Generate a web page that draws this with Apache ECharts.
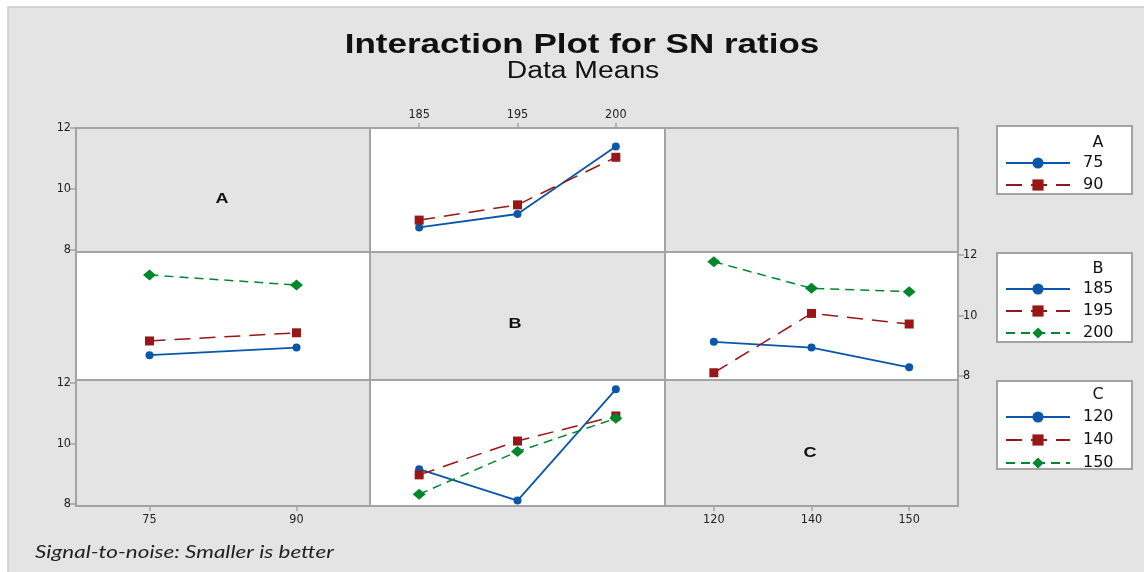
<!DOCTYPE html>
<html>
<head>
<meta charset="utf-8">
<script src="https://cdn.jsdelivr.net/npm/echarts@6/dist/echarts.min.js"></script>
<style>html,body{margin:0;padding:0;background:#fff}#c{width:1144px;height:572px}</style>
</head>
<body>
<div id="c"></div>
<script>
// ---- data ----
const aLevels = ['75', '90'];
const bLevels = ['185', '195', '200'];
const cLevels = ['120', '140', '150'];
const yTickValues = [8, 10, 12];

// A x B panel (x axis = B)
const a75ByB = [8.74, 9.18, 11.39];
const a90ByB = [8.98, 9.48, 11.04];
// B x A panel (x axis = A)
const b185ByA = [8.69, 8.94];
const b195ByA = [9.16, 9.43];
const b200ByA = [11.34, 11.01];
// B x C panel (x axis = C)
const b185ByC = [9.13, 8.94, 8.29];
const b195ByC = [8.11, 10.07, 9.72];
const b200ByC = [11.78, 10.90, 10.79];
// C x B panel (x axis = B)
const c120ByB = [9.15, 8.11, 11.79];
const c140ByB = [8.96, 10.08, 10.91];
const c150ByB = [8.32, 9.73, 10.83];

// ---- layout / style ----
const colLeft = [76, 370, 665], colW = [294, 295, 293];
const rowTop = [128, 252, 380], rowH = [124, 128, 126];
const rowRange = [[7.934, 12.0], [7.87, 12.1], [7.93, 12.1]];
const levelsByCol = [aLevels, bLevels, cLevels];
const dataPanels = ['0-1', '1-0', '1-2', '2-1'];
const BORDER = '#a3a3a3', GRAY = '#e4e4e4';
const BLUE = '#0a56a8', RED = '#9a1616', GREEN = '#00862d';
const tickFont = "'Liberation Sans Narrow', 'DejaVu Sans Condensed', 'Liberation Sans', sans-serif";

const grids = [], xAxes = [], yAxes = [];
for (let r = 0; r < 3; r++) {
  for (let c = 0; c < 3; c++) {
    const i = r * 3 + c;
    const isData = dataPanels.includes(r + '-' + c);
    grids.push({
      left: colLeft[c], top: rowTop[r], width: colW[c], height: rowH[r],
      show: true, backgroundColor: isData ? '#ffffff' : GRAY,
      borderColor: BORDER, borderWidth: 2, containLabel: false
    });
    let xPos = null;
    if (r === 0 && c === 1) xPos = 'top';
    if (r === 2 && (c === 0 || c === 2)) xPos = 'bottom';
    xAxes.push({
      type: 'category', gridIndex: i, data: levelsByCol[c], boundaryGap: true,
      show: xPos !== null, position: xPos || 'bottom',
      axisLine: { show: true, lineStyle: { color: BORDER, width: 2 } },
      axisTick: { show: true, alignWithLabel: true, length: 5, lineStyle: { color: BORDER, width: 1.5 } },
      axisLabel: { fontSize: 12.5, color: '#222', fontFamily: tickFont, margin: 7 },
      splitLine: { show: false }
    });
    let yPos = null;
    if (c === 0 && (r === 0 || r === 2)) yPos = 'left';
    if (c === 2 && r === 1) yPos = 'right';
    yAxes.push({
      type: 'value', gridIndex: i, min: rowRange[r][0], max: rowRange[r][1],
      show: yPos !== null, position: yPos || 'left',
      axisLine: { show: true, lineStyle: { color: BORDER, width: 2 } },
      axisTick: { show: true, length: 6, customValues: yTickValues, lineStyle: { color: BORDER, width: 1.5 } },
      axisLabel: { fontSize: 12.5, color: '#222', fontFamily: tickFont, margin: 5, customValues: yTickValues },
      splitLine: { show: false }
    });
  }
}

const styles = {
  blue: { color: BLUE, symbol: 'circle', symbolSize: 8, lineStyle: { color: BLUE, width: 1.8, type: 'solid' } },
  red: { color: RED, symbol: 'rect', symbolSize: 9, lineStyle: { color: RED, width: 1.5, type: [16, 9] } },
  green: { color: GREEN, symbol: 'diamond', symbolSize: [13, 11], lineStyle: { color: GREEN, width: 1.5, type: [9, 6] } }
};
function mk(name, data, gridIdx, st) {
  const s = styles[st];
  return {
    type: 'line', name: name, data: data, xAxisIndex: gridIdx, yAxisIndex: gridIdx,
    symbol: s.symbol, symbolSize: s.symbolSize, showSymbol: true,
    itemStyle: { color: s.color }, lineStyle: s.lineStyle,
    animation: false, silent: true, z: 3
  };
}
const series = [
  mk('75', a75ByB, 1, 'blue'), mk('90', a90ByB, 1, 'red'),
  mk('185', b185ByA, 3, 'blue'), mk('195', b195ByA, 3, 'red'), mk('200', b200ByA, 3, 'green'),
  mk('185', b185ByC, 5, 'blue'), mk('195', b195ByC, 5, 'red'), mk('200', b200ByC, 5, 'green'),
  mk('120', c120ByB, 7, 'blue'), mk('140', c140ByB, 7, 'red'), mk('150', c150ByB, 7, 'green')
];

function legend(names, top, gap) {
  return {
    data: names, orient: 'vertical', left: 1005, top: top, itemWidth: 64, itemHeight: 14, itemGap: gap,
    selectedMode: false, padding: 0, z: 6,
    textStyle: { fontFamily: "'DejaVu Sans', sans-serif", fontSize: 16, color: '#111', padding: [0, 0, 0, 8] }
  };
}

const legFont = "16px 'DejaVu Sans', sans-serif";
const graphic = [
  { type: 'rect', z: -100, silent: true, shape: { x: 8, y: 7, width: 1150, height: 580 }, style: { fill: GRAY, stroke: '#c9c9c9', lineWidth: 1.5 } },
  { type: 'text', z: 10, x: 582, y: 45, scaleX: 1.25, style: { text: 'Interaction Plot for SN ratios', font: "bold 28px 'Liberation Sans', Arial, sans-serif", fill: '#111', textAlign: 'center', textVerticalAlign: 'middle' } },
  { type: 'text', z: 10, x: 583, y: 72, scaleX: 1.23, style: { text: 'Data Means', font: "23px 'Liberation Sans', Arial, sans-serif", fill: '#111', textAlign: 'center', textVerticalAlign: 'middle' } },
  { type: 'text', z: 10, x: 35, y: 553, scaleX: 1.32, style: { text: 'Signal-to-noise: Smaller is better', font: "italic 17px Lato, 'Open Sans', sans-serif", fill: '#222', textAlign: 'left', textVerticalAlign: 'middle' } },
  { type: 'text', z: 10, x: 222, y: 199, scaleX: 1.2, style: { text: 'A', font: "bold 15px 'Liberation Sans', Arial, sans-serif", fill: '#111', textAlign: 'center', textVerticalAlign: 'middle' } },
  { type: 'text', z: 10, x: 515, y: 324, scaleX: 1.2, style: { text: 'B', font: "bold 15px 'Liberation Sans', Arial, sans-serif", fill: '#111', textAlign: 'center', textVerticalAlign: 'middle' } },
  { type: 'text', z: 10, x: 810, y: 453, scaleX: 1.2, style: { text: 'C', font: "bold 15px 'Liberation Sans', Arial, sans-serif", fill: '#111', textAlign: 'center', textVerticalAlign: 'middle' } },
  { type: 'rect', z: 3, silent: true, shape: { x: 997, y: 126, width: 135, height: 68 }, style: { fill: '#fff', stroke: BORDER, lineWidth: 2 } },
  { type: 'rect', z: 3, silent: true, shape: { x: 997, y: 253, width: 135, height: 89 }, style: { fill: '#fff', stroke: BORDER, lineWidth: 2 } },
  { type: 'rect', z: 3, silent: true, shape: { x: 997, y: 381, width: 135, height: 88 }, style: { fill: '#fff', stroke: BORDER, lineWidth: 2 } },
  { type: 'text', z: 10, x: 1098, y: 143, style: { text: 'A', font: legFont, fill: '#111', textAlign: 'center', textVerticalAlign: 'middle' } },
  { type: 'text', z: 10, x: 1098, y: 269, style: { text: 'B', font: legFont, fill: '#111', textAlign: 'center', textVerticalAlign: 'middle' } },
  { type: 'text', z: 10, x: 1098, y: 395, style: { text: 'C', font: legFont, fill: '#111', textAlign: 'center', textVerticalAlign: 'middle' } }
];

const chart = echarts.init(document.getElementById('c'), null, { renderer: 'canvas' });
chart.setOption({
  backgroundColor: '#ffffff',
  animation: false,
  grid: grids,
  xAxis: xAxes,
  yAxis: yAxes,
  legend: [legend(aLevels, 155, 6), legend(bLevels, 281, 6), legend(cLevels, 409, 7)],
  series: series,
  graphic: graphic
});
</script>
</body>
</html>
